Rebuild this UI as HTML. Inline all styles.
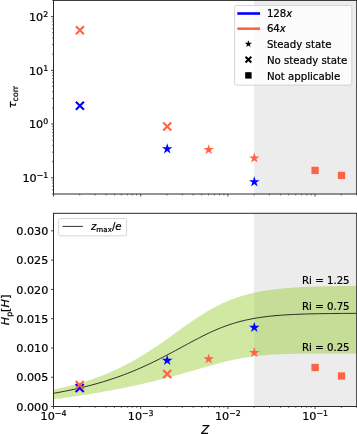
<!DOCTYPE html>
<html lang="en"><head><meta charset="utf-8"><title>Correlation time and penetration depth vs Z</title>
<style>html,body{margin:0;padding:0;background:#fff}svg{display:block}</style></head>
<body>
<svg width="357" height="434" viewBox="0 0 357 434" font-family='"DejaVu Sans","Liberation Sans",sans-serif' fill="#000">
<style>text{stroke:#000;stroke-width:0.22px;stroke-linejoin:round}</style>
<rect width="357" height="434" fill="#fff"/>
<rect x="254.15" y="0.4" width="102.55" height="193.60" fill="#ececec"/>
<rect x="254.15" y="213.3" width="102.55" height="193.20" fill="#ececec"/>
<path d="M53.50 389.58L55.68 389.13L57.86 388.67L60.04 388.20L62.23 387.71L64.41 387.20L66.59 386.68L68.77 386.14L70.95 385.59L73.13 385.02L75.31 384.43L77.49 383.82L79.68 383.20L81.86 382.55L84.04 381.89L86.22 381.21L88.40 380.50L90.58 379.78L92.76 379.04L94.94 378.27L97.13 377.48L99.31 376.67L101.49 375.83L103.67 374.98L105.85 374.09L108.03 373.19L110.21 372.25L112.39 371.30L114.58 370.31L116.76 369.30L118.94 368.27L121.12 367.21L123.30 366.12L125.48 365.00L127.66 363.86L129.85 362.69L132.03 361.49L134.21 360.27L136.39 359.01L138.57 357.74L140.75 356.43L142.93 355.10L145.11 353.75L147.30 352.37L149.48 350.97L151.66 349.55L153.84 348.10L156.02 346.63L158.20 345.15L160.38 343.65L162.56 342.13L164.75 340.60L166.93 339.06L169.11 337.51L171.29 335.95L173.47 334.38L175.65 332.81L177.83 331.25L180.02 329.68L182.20 328.12L184.38 326.57L186.56 325.03L188.74 323.51L190.92 322.00L193.10 320.50L195.28 319.04L197.47 317.59L199.65 316.17L201.83 314.78L204.01 313.42L206.19 312.10L208.37 310.81L210.55 309.55L212.73 308.34L214.92 307.16L217.10 306.02L219.28 304.92L221.46 303.87L223.64 302.85L225.82 301.88L228.00 300.95L230.18 300.05L232.37 299.20L234.55 298.39L236.73 297.62L238.91 296.89L241.09 296.19L243.27 295.53L245.45 294.91L247.64 294.32L249.82 293.76L252.00 293.23L254.18 292.74L256.36 292.27L258.54 291.83L260.72 291.42L262.90 291.04L265.09 290.67L267.27 290.33L269.45 290.01L271.63 289.72L273.81 289.44L275.99 289.18L278.17 288.93L280.35 288.70L282.54 288.49L284.72 288.29L286.90 288.11L289.08 287.93L291.26 287.77L293.44 287.62L295.62 287.48L297.81 287.35L299.99 287.23L302.17 287.12L304.35 287.01L306.53 286.92L308.71 286.83L310.89 286.74L313.07 286.66L315.26 286.59L317.44 286.52L319.62 286.46L321.80 286.40L323.98 286.35L326.16 286.30L328.34 286.25L330.52 286.20L332.71 286.16L334.89 286.13L337.07 286.09L339.25 286.06L341.43 286.03L343.61 286.00L345.79 285.98L347.97 285.95L350.16 285.93L352.34 285.91L354.52 285.89L356.70 285.87L356.70 353.41L354.52 353.41L352.34 353.42L350.16 353.42L347.97 353.42L345.79 353.43L343.61 353.43L341.43 353.43L339.25 353.44L337.07 353.44L334.89 353.45L332.71 353.46L330.52 353.46L328.34 353.47L326.16 353.48L323.98 353.49L321.80 353.50L319.62 353.51L317.44 353.53L315.26 353.54L313.07 353.56L310.89 353.58L308.71 353.60L306.53 353.63L304.35 353.66L302.17 353.69L299.99 353.72L297.81 353.76L295.62 353.80L293.44 353.85L291.26 353.90L289.08 353.96L286.90 354.03L284.72 354.10L282.54 354.18L280.35 354.27L278.17 354.36L275.99 354.47L273.81 354.59L271.63 354.72L269.45 354.86L267.27 355.02L265.09 355.19L262.90 355.38L260.72 355.58L258.54 355.81L256.36 356.05L254.18 356.31L252.00 356.59L249.82 356.89L247.64 357.21L245.45 357.55L243.27 357.92L241.09 358.30L238.91 358.71L236.73 359.14L234.55 359.59L232.37 360.06L230.18 360.55L228.00 361.06L225.82 361.58L223.64 362.12L221.46 362.68L219.28 363.25L217.10 363.83L214.92 364.42L212.73 365.02L210.55 365.63L208.37 366.25L206.19 366.87L204.01 367.49L201.83 368.12L199.65 368.75L197.47 369.37L195.28 370.00L193.10 370.63L190.92 371.26L188.74 371.88L186.56 372.50L184.38 373.12L182.20 373.73L180.02 374.34L177.83 374.94L175.65 375.54L173.47 376.13L171.29 376.72L169.11 377.30L166.93 377.87L164.75 378.44L162.56 379.00L160.38 379.56L158.20 380.11L156.02 380.65L153.84 381.18L151.66 381.71L149.48 382.23L147.30 382.75L145.11 383.26L142.93 383.76L140.75 384.25L138.57 384.74L136.39 385.22L134.21 385.70L132.03 386.16L129.85 386.63L127.66 387.08L125.48 387.53L123.30 387.97L121.12 388.41L118.94 388.84L116.76 389.27L114.58 389.69L112.39 390.10L110.21 390.51L108.03 390.91L105.85 391.31L103.67 391.70L101.49 392.08L99.31 392.46L97.13 392.84L94.94 393.21L92.76 393.57L90.58 393.93L88.40 394.28L86.22 394.63L84.04 394.98L81.86 395.31L79.68 395.65L77.49 395.98L75.31 396.30L73.13 396.62L70.95 396.94L68.77 397.25L66.59 397.56L64.41 397.86L62.23 398.16L60.04 398.45L57.86 398.74L55.68 399.03L53.50 399.31Z" fill="#9acd32" fill-opacity="0.45"/>
<path d="M53.50 393.32L55.68 392.94L57.86 392.54L60.04 392.14L62.23 391.73L64.41 391.30L66.59 390.87L68.77 390.42L70.95 389.97L73.13 389.50L75.31 389.02L77.49 388.53L79.68 388.03L81.86 387.51L84.04 386.98L86.22 386.44L88.40 385.88L90.58 385.32L92.76 384.73L94.94 384.14L97.13 383.53L99.31 382.90L101.49 382.26L103.67 381.60L105.85 380.93L108.03 380.24L110.21 379.54L112.39 378.82L114.58 378.08L116.76 377.33L118.94 376.55L121.12 375.77L123.30 374.96L125.48 374.13L127.66 373.29L129.85 372.43L132.03 371.55L134.21 370.66L136.39 369.74L138.57 368.81L140.75 367.86L142.93 366.89L145.11 365.90L147.30 364.90L149.48 363.87L151.66 362.83L153.84 361.78L156.02 360.71L158.20 359.62L160.38 358.52L162.56 357.40L164.75 356.27L166.93 355.13L169.11 353.98L171.29 352.81L173.47 351.64L175.65 350.47L177.83 349.29L180.02 348.10L182.20 346.91L184.38 345.73L186.56 344.54L188.74 343.36L190.92 342.19L193.10 341.02L195.28 339.87L197.47 338.72L199.65 337.60L201.83 336.49L204.01 335.40L206.19 334.33L208.37 333.28L210.55 332.26L212.73 331.27L214.92 330.30L217.10 329.37L219.28 328.46L221.46 327.59L223.64 326.75L225.82 325.94L228.00 325.17L230.18 324.43L232.37 323.72L234.55 323.05L236.73 322.41L238.91 321.80L241.09 321.23L243.27 320.69L245.45 320.18L247.64 319.69L249.82 319.24L252.00 318.81L254.18 318.41L256.36 318.04L258.54 317.69L260.72 317.36L262.90 317.06L265.09 316.77L267.27 316.51L269.45 316.26L271.63 316.03L273.81 315.82L275.99 315.62L278.17 315.44L280.35 315.27L282.54 315.11L284.72 314.97L286.90 314.83L289.08 314.71L291.26 314.59L293.44 314.48L295.62 314.39L297.81 314.30L299.99 314.21L302.17 314.13L304.35 314.06L306.53 314.00L308.71 313.94L310.89 313.88L313.07 313.83L315.26 313.78L317.44 313.74L319.62 313.70L321.80 313.66L323.98 313.63L326.16 313.60L328.34 313.57L330.52 313.54L332.71 313.52L334.89 313.49L337.07 313.47L339.25 313.45L341.43 313.44L343.61 313.42L345.79 313.41L347.97 313.39L350.16 313.38L352.34 313.37L354.52 313.36L356.70 313.35" fill="none" stroke="#000" stroke-opacity="0.8" stroke-width="1.0"/>
<path d="M75.90 26.20L83.90 34.20M75.90 34.20L83.90 26.20" stroke="#ff6347" stroke-width="2.1" fill="none"/>
<path d="M75.90 101.80L83.90 109.80M75.90 109.80L83.90 101.80" stroke="#0000ff" stroke-width="2.1" fill="none"/>
<path d="M163.20 122.50L171.20 130.50M163.20 130.50L171.20 122.50" stroke="#ff6347" stroke-width="2.1" fill="none"/>
<polygon points="167.20,143.35 168.45,147.18 172.48,147.18 169.22,149.56 170.46,153.39 167.20,151.02 163.94,153.39 165.18,149.56 161.92,147.18 165.95,147.18" fill="#0000ff"/>
<polygon points="208.70,144.15 209.95,147.98 213.98,147.98 210.72,150.36 211.96,154.19 208.70,151.82 205.44,154.19 206.68,150.36 203.42,147.98 207.45,147.98" fill="#ff6347"/>
<polygon points="254.30,152.55 255.55,156.38 259.58,156.38 256.32,158.76 257.56,162.59 254.30,160.22 251.04,162.59 252.28,158.76 249.02,156.38 253.05,156.38" fill="#ff6347"/>
<polygon points="254.30,176.35 255.55,180.18 259.58,180.18 256.32,182.56 257.56,186.39 254.30,184.02 251.04,186.39 252.28,182.56 249.02,180.18 253.05,180.18" fill="#0000ff"/>
<rect x="311.45" y="166.75" width="7.3" height="7.3" fill="#ff6347"/>
<rect x="337.85" y="171.75" width="7.3" height="7.3" fill="#ff6347"/>
<path d="M75.70 383.90L83.70 391.90M75.70 391.90L83.70 383.90" stroke="#0000ff" stroke-width="2.1" fill="none"/>
<path d="M75.70 381.10L83.70 389.10M75.70 389.10L83.70 381.10" stroke="#ff6347" stroke-width="2.1" fill="none"/>
<polygon points="167.20,354.95 168.45,358.78 172.48,358.78 169.22,361.16 170.46,364.99 167.20,362.62 163.94,364.99 165.18,361.16 161.92,358.78 165.95,358.78" fill="#0000ff"/>
<path d="M163.20 370.00L171.20 378.00M163.20 378.00L171.20 370.00" stroke="#ff6347" stroke-width="2.1" fill="none"/>
<polygon points="208.70,353.45 209.95,357.28 213.98,357.28 210.72,359.66 211.96,363.49 208.70,361.12 205.44,363.49 206.68,359.66 203.42,357.28 207.45,357.28" fill="#ff6347"/>
<polygon points="254.30,321.95 255.55,325.78 259.58,325.78 256.32,328.16 257.56,331.99 254.30,329.62 251.04,331.99 252.28,328.16 249.02,325.78 253.05,325.78" fill="#0000ff"/>
<polygon points="254.30,347.05 255.55,350.88 259.58,350.88 256.32,353.26 257.56,357.09 254.30,354.72 251.04,357.09 252.28,353.26 249.02,350.88 253.05,350.88" fill="#ff6347"/>
<rect x="311.45" y="363.85" width="7.3" height="7.3" fill="#ff6347"/>
<rect x="337.85" y="372.35" width="7.3" height="7.3" fill="#ff6347"/>
<path d="M53.50 194.0v2.5M140.70 194.0v2.5M227.90 194.0v2.5M315.10 194.0v2.5M53.50 406.5v2.5M140.70 406.5v2.5M227.90 406.5v2.5M315.10 406.5v2.5M53.5 177.82h-2.5M53.5 124.07h-2.5M53.5 70.33h-2.5M53.5 16.58h-2.5M53.5 406.50h-2.5M53.5 377.23h-2.5M53.5 347.95h-2.5M53.5 318.68h-2.5M53.5 289.41h-2.5M53.5 260.14h-2.5M53.5 230.86h-2.5" stroke="#2a2a2a" stroke-width="0.85" fill="none"/>
<path d="M79.75 194.0v1.4M95.10 194.0v1.4M106.00 194.0v1.4M114.45 194.0v1.4M121.35 194.0v1.4M127.19 194.0v1.4M132.25 194.0v1.4M136.71 194.0v1.4M166.95 194.0v1.4M182.30 194.0v1.4M193.20 194.0v1.4M201.65 194.0v1.4M208.55 194.0v1.4M214.39 194.0v1.4M219.45 194.0v1.4M223.91 194.0v1.4M254.15 194.0v1.4M269.50 194.0v1.4M280.40 194.0v1.4M288.85 194.0v1.4M295.75 194.0v1.4M301.59 194.0v1.4M306.65 194.0v1.4M311.11 194.0v1.4M341.35 194.0v1.4M356.70 194.0v1.4M79.75 406.5v1.4M95.10 406.5v1.4M106.00 406.5v1.4M114.45 406.5v1.4M121.35 406.5v1.4M127.19 406.5v1.4M132.25 406.5v1.4M136.71 406.5v1.4M166.95 406.5v1.4M182.30 406.5v1.4M193.20 406.5v1.4M201.65 406.5v1.4M208.55 406.5v1.4M214.39 406.5v1.4M219.45 406.5v1.4M223.91 406.5v1.4M254.15 406.5v1.4M269.50 406.5v1.4M280.40 406.5v1.4M288.85 406.5v1.4M295.75 406.5v1.4M301.59 406.5v1.4M306.65 406.5v1.4M311.11 406.5v1.4M341.35 406.5v1.4M356.70 406.5v1.4M53.5 194.00h-1.4M53.5 189.74h-1.4M53.5 186.15h-1.4M53.5 183.03h-1.4M53.5 180.28h-1.4M53.5 161.64h-1.4M53.5 152.18h-1.4M53.5 145.46h-1.4M53.5 140.25h-1.4M53.5 136.00h-1.4M53.5 132.40h-1.4M53.5 129.28h-1.4M53.5 126.53h-1.4M53.5 107.89h-1.4M53.5 98.43h-1.4M53.5 91.71h-1.4M53.5 86.51h-1.4M53.5 82.25h-1.4M53.5 78.65h-1.4M53.5 75.54h-1.4M53.5 72.79h-1.4M53.5 54.15h-1.4M53.5 44.68h-1.4M53.5 37.97h-1.4M53.5 32.76h-1.4M53.5 28.50h-1.4M53.5 24.90h-1.4M53.5 21.79h-1.4M53.5 19.04h-1.4M53.5 0.40h-1.4" stroke="#2a2a2a" stroke-width="0.7" fill="none"/>
<rect x="53.5" y="0.4" width="303.20" height="193.60" fill="none" stroke="#2a2a2a" stroke-width="1"/>
<rect x="53.5" y="213.3" width="303.20" height="193.20" fill="none" stroke="#2a2a2a" stroke-width="1"/>
<text x="48.20" y="182.02" font-size="11.2" text-anchor="end">10<tspan font-size="7.84" dy="-3.81">−1</tspan></text>
<text x="48.20" y="128.27" font-size="11.2" text-anchor="end">10<tspan font-size="7.84" dy="-3.81">0</tspan></text>
<text x="48.20" y="74.53" font-size="11.2" text-anchor="end">10<tspan font-size="7.84" dy="-3.81">1</tspan></text>
<text x="48.20" y="20.78" font-size="11.2" text-anchor="end">10<tspan font-size="7.84" dy="-3.81">2</tspan></text>
<text x="48.3" y="410.60" font-size="11.2" text-anchor="end">0.000</text>
<text x="48.3" y="381.33" font-size="11.2" text-anchor="end">0.005</text>
<text x="48.3" y="352.05" font-size="11.2" text-anchor="end">0.010</text>
<text x="48.3" y="322.78" font-size="11.2" text-anchor="end">0.015</text>
<text x="48.3" y="293.51" font-size="11.2" text-anchor="end">0.020</text>
<text x="48.3" y="264.24" font-size="11.2" text-anchor="end">0.025</text>
<text x="48.3" y="234.96" font-size="11.2" text-anchor="end">0.030</text>
<text x="53.50" y="419.90" font-size="11.2" text-anchor="middle">10<tspan font-size="7.84" dy="-3.81">−4</tspan></text>
<text x="140.70" y="419.90" font-size="11.2" text-anchor="middle">10<tspan font-size="7.84" dy="-3.81">−3</tspan></text>
<text x="227.90" y="419.90" font-size="11.2" text-anchor="middle">10<tspan font-size="7.84" dy="-3.81">−2</tspan></text>
<text x="315.10" y="419.90" font-size="11.2" text-anchor="middle">10<tspan font-size="7.84" dy="-3.81">−1</tspan></text>
<text x="205.10" y="433.6" font-size="11.5" font-style="italic" text-anchor="middle">Z</text>
<text transform="translate(15.7,97.1) rotate(-90)" font-size="11.2" text-anchor="middle"><tspan font-style="italic">τ</tspan><tspan font-size="7.84" dy="2.6">corr</tspan></text>
<text transform="translate(9.3,310) rotate(-90)" font-size="11.2" text-anchor="middle"><tspan font-style="italic">H</tspan><tspan font-size="7.84" dy="2.6">p</tspan><tspan dy="-2.6">[</tspan><tspan font-style="italic">H</tspan>]</text>
<text x="302" y="283.6" font-size="10.2">Ri = 1.25</text>
<text x="302" y="309.8" font-size="10.2">Ri = 0.75</text>
<text x="302" y="350.5" font-size="10.2">Ri = 0.25</text>
<rect x="234.6" y="5.5" width="117.2" height="79.6" rx="2" fill="#fff" fill-opacity="0.8" stroke="#ccc" stroke-width="0.8"/>
<path d="M238.6 13.5h20.2" stroke="#0000ff" stroke-width="2.6" stroke-linecap="square"/>
<path d="M238.6 28.7h20.2" stroke="#ff6347" stroke-width="2.6" stroke-linecap="square"/>
<polygon points="248.40,40.20 249.25,42.83 252.01,42.83 249.78,44.45 250.63,47.07 248.40,45.45 246.17,47.07 247.02,44.45 244.79,42.83 247.55,42.83" fill="#000"/>
<path d="M245.50 56.70L251.30 62.50M245.50 62.50L251.30 56.70" stroke="#000" stroke-width="2.0" fill="none"/>
<rect x="245.20" y="72.20" width="6.4" height="6.4" fill="#000"/>
<text x="266.9" y="17.1" font-size="10.2">128<tspan font-style="italic">x</tspan></text>
<text x="266.9" y="32.3" font-size="10.2">64<tspan font-style="italic">x</tspan></text>
<text x="266.9" y="47.8" font-size="10.2">Steady state</text>
<text x="266.9" y="63.7" font-size="10.2">No steady state</text>
<text x="266.9" y="79.8" font-size="10.2">Not applicable</text>
<rect x="58.6" y="218.5" width="68" height="17.3" rx="2" fill="#fff" fill-opacity="0.8" stroke="#ccc" stroke-width="0.8"/>
<path d="M62.5 226.4h20.4" stroke="#000" stroke-opacity="0.8" stroke-width="1.0"/>
<text x="91.0" y="230.2" font-size="10.2"><tspan font-style="italic">z</tspan><tspan font-size="7.14" dy="1.6">max</tspan><tspan dy="-1.6">/</tspan><tspan font-style="italic">e</tspan></text>
</svg>
</body></html>
